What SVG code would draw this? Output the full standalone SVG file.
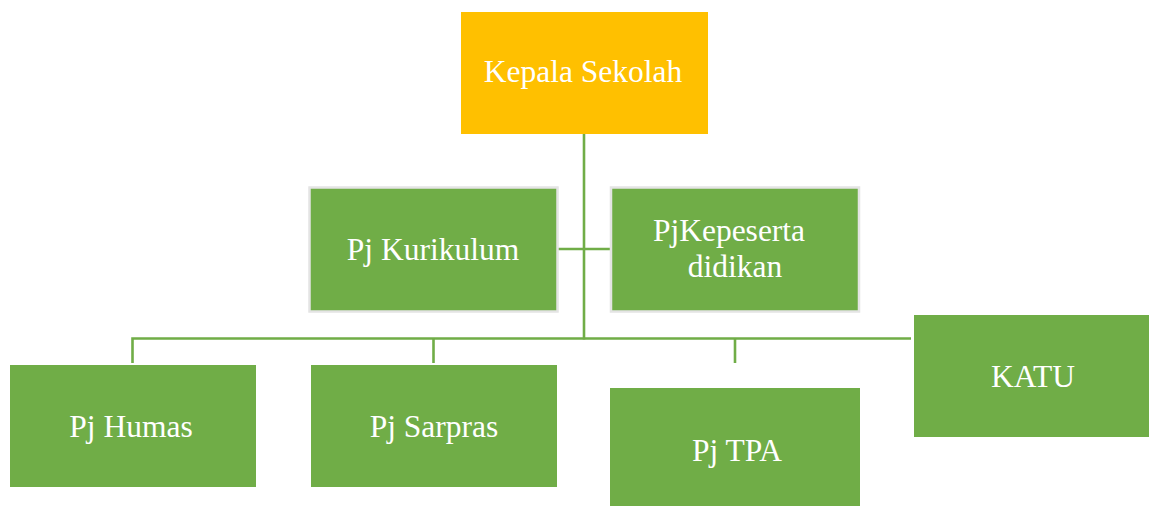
<svg xmlns="http://www.w3.org/2000/svg" width="1149" height="506" viewBox="0 0 1149 506">
<style>
.box{fill:#70AD47}
.bordered{fill:#70AD47;stroke:#E4E4E4;stroke-width:2.5}
.top{fill:#FFC000}
.lbl{font-family:'Liberation Serif','Tinos','Noto Serif','DejaVu Serif',serif;font-size:31.5px;fill:#FFFFFF;text-anchor:middle}
.conn{stroke:#70AD47;stroke-width:2.6;fill:none}
</style>
<rect width="1149" height="506" fill="#FFFFFF"/>
<g id="connectors">
<line class="conn" x1="584" y1="134" x2="584" y2="339.5"/>
<line class="conn" x1="558" y1="249" x2="610" y2="249"/>
<polyline class="conn" points="132.5,363 132.5,338.5 911,338.5"/>
<line class="conn" x1="433.5" y1="338.5" x2="433.5" y2="363"/>
<line class="conn" x1="735" y1="338.5" x2="735" y2="363"/>
</g>
<g id="kepala-sekolah">
<rect class="top" x="461" y="12" width="247" height="122"/>
<text class="lbl" x="583" y="82">Kepala Sekolah</text>
</g>
<g id="pj-kurikulum">
<rect class="bordered" x="309.5" y="187.5" width="248" height="124"/>
<text class="lbl" x="433" y="260">Pj Kurikulum</text>
</g>
<g id="pj-kepeserta-didikan">
<rect class="bordered" x="611" y="187.5" width="248" height="124"/>
<text class="lbl" x="729" y="241">PjKepeserta</text>
<text class="lbl" x="735" y="277">didikan</text>
</g>
<g id="pj-humas">
<rect class="box" x="10" y="365" width="246" height="122"/>
<text class="lbl" x="131" y="437">Pj Humas</text>
</g>
<g id="pj-sarpras">
<rect class="box" x="311" y="365" width="246" height="122"/>
<text class="lbl" x="434" y="437">Pj Sarpras</text>
</g>
<g id="pj-tpa">
<rect class="box" x="610" y="388" width="250" height="122"/>
<text class="lbl" x="737" y="461">Pj TPA</text>
</g>
<g id="katu">
<rect class="box" x="914" y="315" width="235" height="122"/>
<text class="lbl" x="1033" y="387">KATU</text>
</g>
</svg>
